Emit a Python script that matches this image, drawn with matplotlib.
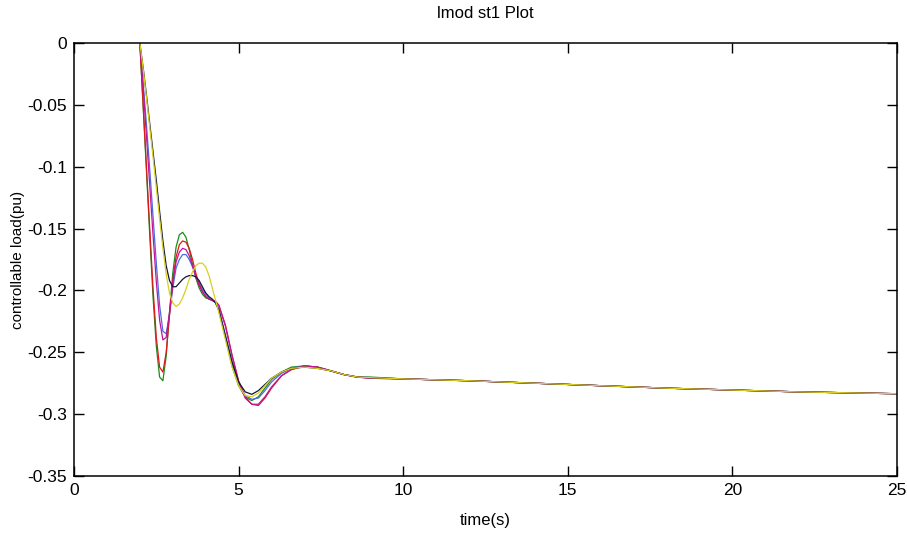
#!/usr/bin/env python3

import matplotlib as mpl
import matplotlib.pyplot as plt
from matplotlib.ticker import FuncFormatter
mpl.use("Agg")
mpl.rcParams["font.family"] = ["Liberation Sans Narrow", "Liberation Sans", "DejaVu Sans"]

# time axis shared by all runs (s)
time_s = [2.0, 2.1, 2.2, 2.3, 2.4, 2.5, 2.6, 2.7, 2.8, 2.9,
          3.0, 3.1, 3.2, 3.3, 3.4, 3.5, 3.6, 3.7, 3.8, 3.9,
          4.0, 4.1, 4.2, 4.3, 4.4, 4.6, 4.8, 5.0, 5.2, 5.4,
          5.6, 5.8, 6.0, 6.3, 6.6, 7.0, 7.4, 7.8, 8.2, 8.6,
          9.0, 10, 12, 14, 16, 18, 20, 22, 25]

load_green = [0, -0.051, -0.103, -0.155, -0.205, -0.245, -0.270, -0.273, -0.253, -0.218,
              -0.186, -0.165, -0.155, -0.153, -0.157, -0.167, -0.179, -0.190, -0.198, -0.203,
              -0.206, -0.207, -0.208, -0.210, -0.216, -0.238, -0.261, -0.277, -0.286, -0.289,
              -0.286, -0.279, -0.272, -0.266, -0.262, -0.261, -0.262, -0.265, -0.268, -0.270,
              -0.270, -0.2715, -0.273, -0.275, -0.277, -0.279, -0.2805, -0.282, -0.2835]

load_blue = [0, -0.032, -0.066, -0.102, -0.140, -0.178, -0.212, -0.233, -0.235, -0.220,
             -0.198, -0.182, -0.175, -0.171, -0.171, -0.175, -0.181, -0.188, -0.194, -0.199,
             -0.203, -0.206, -0.208, -0.210, -0.215, -0.236, -0.258, -0.275, -0.285, -0.288,
             -0.287, -0.281, -0.274, -0.267, -0.263, -0.261, -0.262, -0.265, -0.268, -0.270,
             -0.2705, -0.2715, -0.273, -0.275, -0.277, -0.279, -0.2805, -0.282, -0.2835]

load_red = [0, -0.050, -0.100, -0.150, -0.198, -0.238, -0.262, -0.266, -0.250, -0.220,
            -0.192, -0.173, -0.163, -0.160, -0.161, -0.166, -0.175, -0.186, -0.195, -0.201,
            -0.205, -0.207, -0.208, -0.209, -0.212, -0.228, -0.252, -0.273, -0.286, -0.292,
            -0.293, -0.287, -0.279, -0.269, -0.264, -0.261, -0.262, -0.265, -0.268, -0.270,
            -0.271, -0.2715, -0.273, -0.275, -0.277, -0.279, -0.2805, -0.282, -0.2835]

load_magenta = [0, -0.036, -0.075, -0.115, -0.155, -0.193, -0.224, -0.240, -0.238, -0.218,
                -0.194, -0.177, -0.169, -0.166, -0.167, -0.172, -0.180, -0.189, -0.196, -0.201,
                -0.205, -0.207, -0.208, -0.209, -0.212, -0.229, -0.253, -0.274, -0.287, -0.292,
                -0.292, -0.286, -0.278, -0.269, -0.264, -0.261, -0.262, -0.265, -0.268, -0.270,
                -0.271, -0.2715, -0.273, -0.275, -0.277, -0.279, -0.2805, -0.282, -0.2835]

load_black = [0, -0.020, -0.042, -0.065, -0.088, -0.111, -0.136, -0.160, -0.180, -0.192,
              -0.197, -0.197, -0.194, -0.191, -0.189, -0.188, -0.188, -0.189, -0.192, -0.197,
              -0.202, -0.205, -0.207, -0.210, -0.216, -0.237, -0.258, -0.274, -0.282, -0.284,
              -0.281, -0.276, -0.271, -0.266, -0.263, -0.262, -0.263, -0.265, -0.268, -0.270,
              -0.2705, -0.2715, -0.273, -0.275, -0.277, -0.279, -0.2805, -0.282, -0.2835]

load_yellow = [0, -0.021, -0.044, -0.068, -0.092, -0.117, -0.142, -0.166, -0.187, -0.202,
               -0.210, -0.213, -0.211, -0.206, -0.199, -0.191, -0.185, -0.180, -0.178, -0.178,
               -0.181, -0.188, -0.198, -0.208, -0.218, -0.240, -0.262, -0.277, -0.285, -0.286,
               -0.283, -0.277, -0.271, -0.266, -0.263, -0.262, -0.263, -0.265, -0.268, -0.270,
               -0.2705, -0.2715, -0.273, -0.275, -0.277, -0.279, -0.2805, -0.282, -0.2835]

x_ticks = [0, 5, 10, 15, 20, 25]
y_ticks = [0, -0.05, -0.1, -0.15, -0.2, -0.25, -0.3, -0.35]


def main():
    fig = plt.figure(figsize=(9.07, 5.34), dpi=100)
    ax = fig.add_axes([0.0816, 0.1086, 0.9074, 0.8109])

    # plot runs, yellow last so it sits on top in the tail
    runs = [(load_green, "#1a8c1a"), (load_blue, "#4a6ee0"), (load_red, "#e01818"),
            (load_magenta, "#c0149a"), (load_black, "#14143a"), (load_yellow, "#d8d020")]
    for values, color in runs:
        ax.plot(time_s, values, color=color, linewidth=0.9)

    ax.set_xlim(0, 25)
    ax.set_ylim(-0.35, 0)
    ax.set_xticks(x_ticks)
    ax.set_yticks(y_ticks)
    ax.yaxis.set_major_formatter(FuncFormatter(lambda v, p: "%g" % v if v != 0 else "0"))
    ax.tick_params(direction="in", length=7, width=1.0, labelsize=12.5,
                   top=True, right=True, pad=5)
    for spine in ax.spines.values():
        spine.set_linewidth(1.1)

    ax.set_title("lmod st1 Plot", fontsize=12, pad=18)
    ax.set_xlabel("time(s)", fontsize=12, labelpad=11)
    ax.set_ylabel("controllable load(pu)", fontsize=11, labelpad=2,
                  family=["Liberation Sans", "DejaVu Sans"])

    fig.savefig("out.png", dpi=100)
    plt.close()


if __name__ == "__main__":
    main()
